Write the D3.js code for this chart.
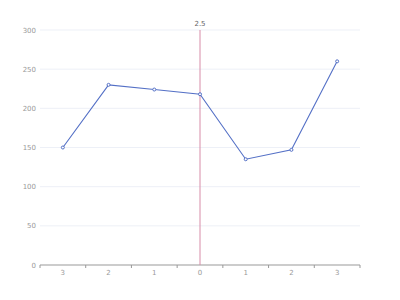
<html>
<head>
<meta charset="utf-8">
<script src="https://d3js.org/d3.v7.min.js"></script>
<style>
  body { margin: 0; background: #fff; }
  text { font-family: "DejaVu Sans", sans-serif; }
</style>
</head>
<body>
<svg class="chart" width="400" height="300"></svg>
<script>

const categories = ["3", "2", "1", "0", "1", "2", "3"];
const values = [150, 230, 224, 218, 135, 147, 260];
const yTicks = [0, 50, 100, 150, 200, 250, 300];
const markCategory = 3;
const markLabel = "2.5";

const svg = d3.select(".chart");
const mLeft = 40, mRight = 360, mTop = 30, mBottom = 265;

const x = d3.scaleBand()
    .domain(d3.range(categories.length))
    .range([mLeft, mRight]);

const y = d3.scaleLinear()
    .domain([0, 300])
    .range([mBottom, mTop]);

// grid
svg.append("g")
  .selectAll("line")
  .data(yTicks.filter(d => d > 0))
  .join("line")
    .attr("x1", mLeft).attr("x2", mRight)
    .attr("y1", d => y(d)).attr("y2", d => y(d))
    .attr("stroke", "#E0E6F1")
    .attr("stroke-width", 0.6);

// y labels
svg.append("g")
  .selectAll("text")
  .data(yTicks)
  .join("text")
    .attr("x", 36)
    .attr("y", d => y(d) + 2.5)
    .attr("text-anchor", "end")
    .attr("font-size", 7)
    .attr("fill", "#9a9a9a")
    .text(d => d);

// x axis
const xAxis = svg.append("g").attr("transform", `translate(0,${mBottom})`);
xAxis.append("line")
    .attr("x1", mLeft).attr("x2", mRight)
    .attr("stroke", "#999").attr("stroke-width", 1);
xAxis.selectAll(".tick")
  .data(d3.range(categories.length + 1))
  .join("line")
    .attr("class", "tick")
    .attr("x1", i => mLeft + i * x.bandwidth())
    .attr("x2", i => mLeft + i * x.bandwidth())
    .attr("y1", 0).attr("y2", 3)
    .attr("stroke", "#999");
xAxis.selectAll("text")
  .data(categories)
  .join("text")
    .attr("x", (d, i) => x(i) + x.bandwidth() / 2)
    .attr("y", 9.5)
    .attr("text-anchor", "middle")
    .attr("font-size", 7)
    .attr("fill", "#9a9a9a")
    .text(d => d);

// mark line
const mx = x(markCategory) + x.bandwidth() / 2;
svg.append("line")
    .attr("x1", mx).attr("x2", mx)
    .attr("y1", mTop).attr("y2", mBottom)
    .attr("stroke", "#d78ca8")
    .attr("stroke-width", 1);
svg.append("text")
    .attr("x", mx)
    .attr("y", mTop - 4)
    .attr("text-anchor", "middle")
    .attr("font-size", 7)
    .attr("fill", "#666")
    .text(markLabel);

// line
const line = d3.line()
    .x((d, i) => x(i) + x.bandwidth() / 2)
    .y(d => y(d));

svg.append("path")
    .datum(values)
    .attr("d", line)
    .attr("fill", "none")
    .attr("stroke", "#5470c6")
    .attr("stroke-width", 1.1);

svg.append("g")
  .selectAll("circle")
  .data(values)
  .join("circle")
    .attr("cx", (d, i) => x(i) + x.bandwidth() / 2)
    .attr("cy", d => y(d))
    .attr("r", 1.5)
    .attr("fill", "#fff")
    .attr("stroke", "#5470c6")
    .attr("stroke-width", 1);

</script>
</body>
</html>
